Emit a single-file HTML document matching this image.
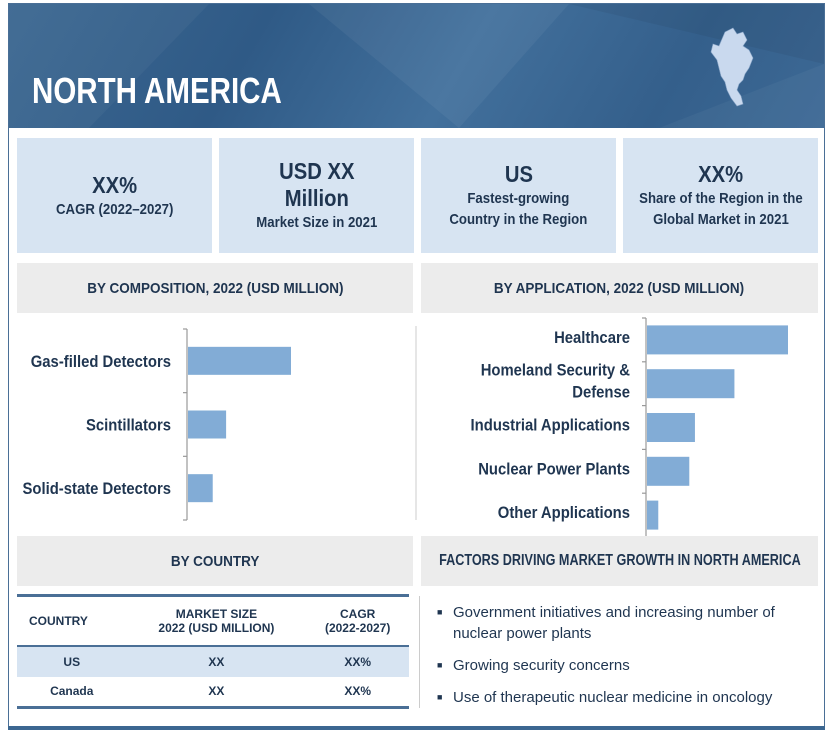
<!DOCTYPE html>
<html><head><meta charset="utf-8">
<style>
body{margin:0;width:833px;height:737px;background:#fff;overflow:hidden;font-family:"Liberation Sans Narrow","Liberation Sans",sans-serif;color:#1f3550;position:relative}
.abs{position:absolute}
.frame{left:8px;top:3px;width:815px;height:722px;border:1px solid #4a6f96}
.header{left:9px;top:4px;width:815px;height:124px;background:linear-gradient(120deg,#3c6791 0%,#2f5a86 30%,#42709c 55%,#345f8b 80%,#3d6995 100%);overflow:hidden}
.title{left:32px;top:70px;font-size:36px;font-weight:bold;color:#fff;transform:scaleX(0.82);transform-origin:left top;white-space:nowrap}
.stat{top:138px;width:195px;height:115px;background:#d7e4f2;display:flex;flex-direction:column;justify-content:center;align-items:center;text-align:center;font-weight:bold}
.stat>div{transform:scaleX(0.88)}
.stat .big{font-size:23px;line-height:27px}
.stat .sm{font-size:15px;line-height:21px;white-space:nowrap}
.sec{background:#ececec;display:flex;align-items:center;justify-content:center;font-weight:bold;font-size:15px;white-space:nowrap}
.sec span{display:inline-block;transform:scaleX(0.9)}
svg text{font-family:"Liberation Sans Narrow","Liberation Sans",sans-serif;font-weight:bold;fill:#1f3550}
table{border-collapse:collapse}
</style></head><body>
<div class="abs header">
<svg width="815" height="124" style="position:absolute;left:0;top:0">
<polygon points="0,0 200,0 80,124 0,124" fill="#fff" opacity="0.04"/>
<polygon points="300,0 560,0 450,124" fill="#fff" opacity="0.05"/>
<polygon points="560,0 815,60 815,0" fill="#000" opacity="0.05"/>
<polygon points="650,124 815,124 815,60" fill="#fff" opacity="0.04"/>
</svg>
<svg width="60" height="90" style="position:absolute;left:694px;top:20px">
<path d="M22,8 L30,4 L34,10 L40,8 L44,16 L40,22 L46,26 L50,34 L46,44 L42,50 L40,56 L36,60 L34,66 L38,72 L40,80 L34,82 L28,74 L24,66 L22,58 L18,52 L16,44 L14,36 L8,28 L10,20 L16,22 Z" fill="#c9d9ee" stroke="#8aa6c8" stroke-width="0.6"/>
</svg>
</div>
<div class="abs frame"></div>
<div class="abs title">NORTH AMERICA</div>

<div class="abs stat" style="left:17px"><div class="big">XX%</div><div class="sm">CAGR (2022–2027)</div></div>
<div class="abs stat" style="left:219px"><div class="big">USD XX<br>Million</div><div class="sm">Market Size in 2021</div></div>
<div class="abs stat" style="left:421px"><div class="big">US</div><div class="sm">Fastest-growing<br>Country in the Region</div></div>
<div class="abs stat" style="left:623px"><div class="big">XX%</div><div class="sm">Share of the Region in the<br>Global Market in 2021</div></div>

<div class="abs sec" style="left:17px;top:263px;width:396px;height:50px"><span>BY COMPOSITION, 2022 (USD MILLION)</span></div>
<div class="abs sec" style="left:421px;top:263px;width:397px;height:50px"><span>BY APPLICATION, 2022 (USD MILLION)</span></div>

<svg class="abs" style="left:0;top:0" width="833" height="737" id="charts"></svg>

<div class="abs sec" style="left:17px;top:536px;width:396px;height:50px"><span>BY COUNTRY</span></div>
<div class="abs sec" style="left:421px;top:536px;width:397px;height:50px;font-size:16px"><span style="transform:scaleX(0.79)">FACTORS DRIVING MARKET GROWTH IN NORTH AMERICA</span></div>

<table class="abs" style="left:17px;top:594px;width:392px;font-weight:bold;font-size:12px">
<tr style="border-top:3px solid #4a6f96;height:50px"><td style="padding-left:12px">COUNTRY</td><td style="text-align:center">MARKET SIZE<br>2022 (USD MILLION)</td><td style="text-align:center">CAGR<br>(2022-2027)</td></tr>
<tr style="border-top:2px solid #4a6f96;background:#d7e4f2;height:31px"><td style="text-align:center">US</td><td style="text-align:center">XX</td><td style="text-align:center">XX%</td></tr>
<tr style="height:31px;border-bottom:3px solid #4a6f96"><td style="text-align:center">Canada</td><td style="text-align:center">XX</td><td style="text-align:center">XX%</td></tr>
</table>
<div class="abs" style="left:419px;top:596px;width:1px;height:112px;background:#ccc"></div>
<div class="abs" style="left:437px;top:602px;font-size:15px;line-height:21px">
<div style="position:relative;padding-left:16px"><span style="position:absolute;left:0;font-size:9px">■</span>Government initiatives and increasing number of<br>nuclear power plants</div>
<div style="position:relative;padding-left:16px;margin-top:11px"><span style="position:absolute;left:0;font-size:9px">■</span>Growing security concerns</div>
<div style="position:relative;padding-left:16px;margin-top:11px"><span style="position:absolute;left:0;font-size:9px">■</span>Use of therapeutic nuclear medicine in oncology</div>
</div>
<div class="abs" style="left:8px;top:726px;width:817px;height:4px;background:#3c6791"></div>

<script>
const compCats=["Gas-filled Detectors","Scintillators","Solid-state Detectors"];
const compVals=[100,37,24];
const appCats=[["Healthcare"],["Homeland Security &","Defense"],["Industrial Applications"],["Nuclear Power Plants"],["Other Applications"]];
const appVals=[100,62,34,30,8];
const NS="http://www.w3.org/2000/svg";
const svg=document.getElementById('charts');
const SX=0.9;
function mk(t,a){const e=document.createElementNS(NS,t);for(const k in a)e.setAttribute(k,a[k]);svg.appendChild(e);return e;}
function chart(cats,vals,ax,top,bot,maxW,barH,name,dy){
  const band=(bot-top)/cats.length;
  const xs=v=>v/100*maxW;
  let ax1=mk('line',{x1:ax,y1:top,x2:ax,y2:bot,stroke:'#999','stroke-width':1.2});
  
  
  for(let i=0;i<=cats.length;i++){const y=top+i*band;mk('line',{x1:ax-4,y1:y,x2:ax,y2:y,stroke:'#999','stroke-width':1.2});}
  cats.forEach((c,i)=>{
    const cy=top+(i+0.5)*band;
    const r=mk('rect',{x:ax+1,y:cy-barH/2,width:xs(vals[i]),height:barH,fill:'#82acd6'});
    
    
    const lines=Array.isArray(c)?c:[c];
    lines.forEach((l,j)=>{
      const t=mk('text',{x:(ax-16)/SX,y:cy+dy+(j-(lines.length-1)/2)*22,'text-anchor':'end','font-size':16.5,transform:'scale('+SX+',1)'});
      t.textContent=l;
      
      
    });
  });
}
chart(compCats,compVals,187,329,520,103,28,'composition',6);
chart(appCats,appVals,646,318,537,141,29,'application',3);
mk('line',{x1:416,y1:326,x2:416,y2:520,stroke:'#ccc','stroke-width':1});
</script>
</body></html>
